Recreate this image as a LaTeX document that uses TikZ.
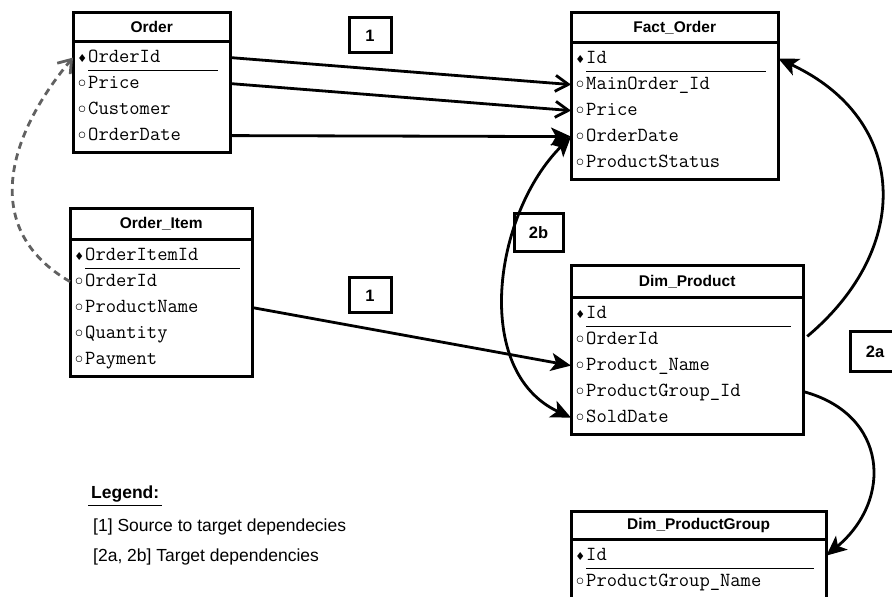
\documentclass[tikz,border=0pt]{standalone}
\usepackage{fontspec}
\setmainfont{Liberation Sans}
\newfontfamily\symfont{DejaVu Sans}
\usetikzlibrary{arrows.meta, positioning}

\newcommand{\att}{\makebox[12pt][c]{\raisebox{-3.5pt}{\symfont\fontsize{22}{22}\selectfont ◦}}}
\newcommand{\key}{\makebox[12pt][c]{\symfont\fontsize{11}{11}\selectfont ♦}}

\begin{document}
\begin{tikzpicture}[
  x=1pt, y=1pt,
  hdr/.style={minimum height=#1, inner sep=0pt, font=\fontsize{15.5}{18}\selectfont\bfseries},
  row/.style={text width=#1, align=left, inner xsep=3pt, inner ysep=0pt, minimum height=26pt,
    text height=13pt, text depth=4pt, font=\ttfamily\fontsize{20}{22}\selectfont},
  frame/.style={line width=3pt},
  uline/.style={line width=1.4pt},
  tag/.style={draw, line width=3pt, inner sep=0pt, font=\fontsize{16.5}{18}\selectfont\bfseries},
  map/.style={line width=2.8pt, -{Straight Barb[length=13pt, width=16pt]}},
  load/.style={line width=2.8pt, -{Stealth[length=20pt, width=18pt, inset=5pt]}},
  dep/.style={line width=2.8pt, {Stealth[length=20pt, width=18pt, inset=5pt]}-{Stealth[length=20pt, width=18pt, inset=5pt]}},
  back/.style={line width=2.8pt, draw=black!62, dash pattern=on 7pt off 5pt, -{Straight Barb[length=12pt, width=17pt]}},
  lgd/.style={inner sep=0pt, anchor=west, font=\fontsize{17.5}{20}\selectfont}
]
\useasboundingbox (0,0) rectangle (892,597);
\fill[white] (0,0) rectangle (892,597);

% source tables
\node[hdr=28pt, minimum width=157pt, anchor=north west] (order) at (73,584) {Order};
\foreach \r/\t [count=\i] in {id/\key OrderId, price/\att Price, cust/\att Customer, date/\att OrderDate}
  \node[row=151pt, anchor=north west] (order-\r) at ([yshift={-3pt-(\i-1)*26pt}]order.south west) {\t};
\draw[frame] (order.north west) rectangle ([yshift=-4pt]order-date.south east);
\draw[frame] (order.south west) -- (order.south east);
\draw[uline] ([xshift=15pt]order-id.south west) -- ([xshift=-12pt]order-id.south east);

\node[hdr=30pt, minimum width=182pt, anchor=north west] (oi) at (70,388) {Order\_Item};
\foreach \r/\t [count=\i] in {id/\key OrderItemId, oid/\att OrderId, pname/\att ProductName, qty/\att Quantity, pay/\att Payment}
  \node[row=176pt, anchor=north west] (oi-\r) at ([yshift={-3pt-(\i-1)*26pt}]oi.south west) {\t};
\draw[frame] (oi.north west) rectangle ([yshift=-4pt]oi-pay.south east);
\draw[frame] (oi.south west) -- (oi.south east);
\draw[uline] ([xshift=15pt]oi-id.south west) -- ([xshift=-12pt]oi-id.south east);

% target tables
\node[hdr=29pt, minimum width=207pt, anchor=north west] (fact) at (571,584) {Fact\_Order};
\foreach \r/\t [count=\i] in {id/\key Id, main/\att MainOrder\_Id, price/\att Price, date/\att OrderDate, status/\att ProductStatus}
  \node[row=201pt, anchor=north west] (fact-\r) at ([yshift={-3pt-(\i-1)*26pt}]fact.south west) {\t};
\draw[frame] (fact.north west) rectangle ([yshift=-4pt]fact-status.south east);
\draw[frame] (fact.south west) -- (fact.south east);
\draw[uline] ([xshift=15pt]fact-id.south west) -- ([xshift=-12pt]fact-id.south east);

\node[hdr=31pt, minimum width=232pt, anchor=north west] (dp) at (571,331) {Dim\_Product};
\foreach \r/\t [count=\i] in {id/\key Id, oid/\att OrderId, pname/\att Product\_Name, gid/\att ProductGroup\_Id, sold/\att SoldDate}
  \node[row=226pt, anchor=north west] (dp-\r) at ([yshift={-3pt-(\i-1)*26pt}]dp.south west) {\t};
\draw[frame] (dp.north west) rectangle ([yshift=-4pt]dp-sold.south east);
\draw[frame] (dp.south west) -- (dp.south east);
\draw[uline] ([xshift=15pt]dp-id.south west) -- ([xshift=-12pt]dp-id.south east);

\node[hdr=27pt, minimum width=255pt, anchor=north west] (dpg) at (571,85) {Dim\_ProductGroup};
\foreach \r/\t [count=\i] in {id/\key Id, gname/\att ProductGroup\_Name}
  \node[row=249pt, anchor=north west] (dpg-\r) at ([yshift={-3pt-(\i-1)*26pt}]dpg.south west) {\t};
\draw[frame] (dpg.north west) rectangle ([yshift=-4pt]dpg-gname.south east);
\draw[frame] (dpg.south west) -- (dpg.south east);
\draw[uline] ([xshift=15pt]dpg-id.south west) -- ([xshift=-12pt]dpg-id.south east);

% dependencies
\draw[map] (order-id.east) -- (fact-main.west);
\draw[map] (order-price.east) -- (fact-price.west);
\draw[load] (order-date.east) -- (fact-date.west);
\draw[load] (oi-pname.east) -- (dp-pname.west);
\draw[dep] (fact-date.west) to[out=-135, in=155] (dp-sold.west);
\draw[load, shorten <=5pt] (dp-oid.east) to[out=40, in=-25, looseness=1.3] (fact-id.east);
\draw[load] (dp-gid.east) to[out=-15, in=40, looseness=1.35] (dpg-id.east);
\draw[back] (oi-oid.west) to[out=150, in=-130, looseness=1.18] (order-id.west);

\node[tag, minimum width=42pt, minimum height=35pt] (t1) at (370,561.5) {1};
\node[tag, minimum width=42pt, minimum height=35pt] (t1b) at (370,301.5) {1};
\node[tag, minimum width=49pt, minimum height=38pt] (t2b) at (538.5,364) {2b};
\node[tag, minimum width=49pt, minimum height=40pt, anchor=west] (t2a) at (849,245) {2a};

% legend
\node[lgd, inner xsep=3pt, font=\fontsize{17.5}{20}\selectfont\bfseries] (legend) at (88,103) {Legend:};
\draw[line width=1.6pt] ([yshift=-3pt]legend.south west) -- ([yshift=-3pt]legend.south east);
\node[lgd] (lg1) at (93,70) {[1] Source to target dependecies};
\node[lgd] (lg2) at (93,40) {[2a, 2b] Target dependencies};
\end{tikzpicture}
\end{document}
